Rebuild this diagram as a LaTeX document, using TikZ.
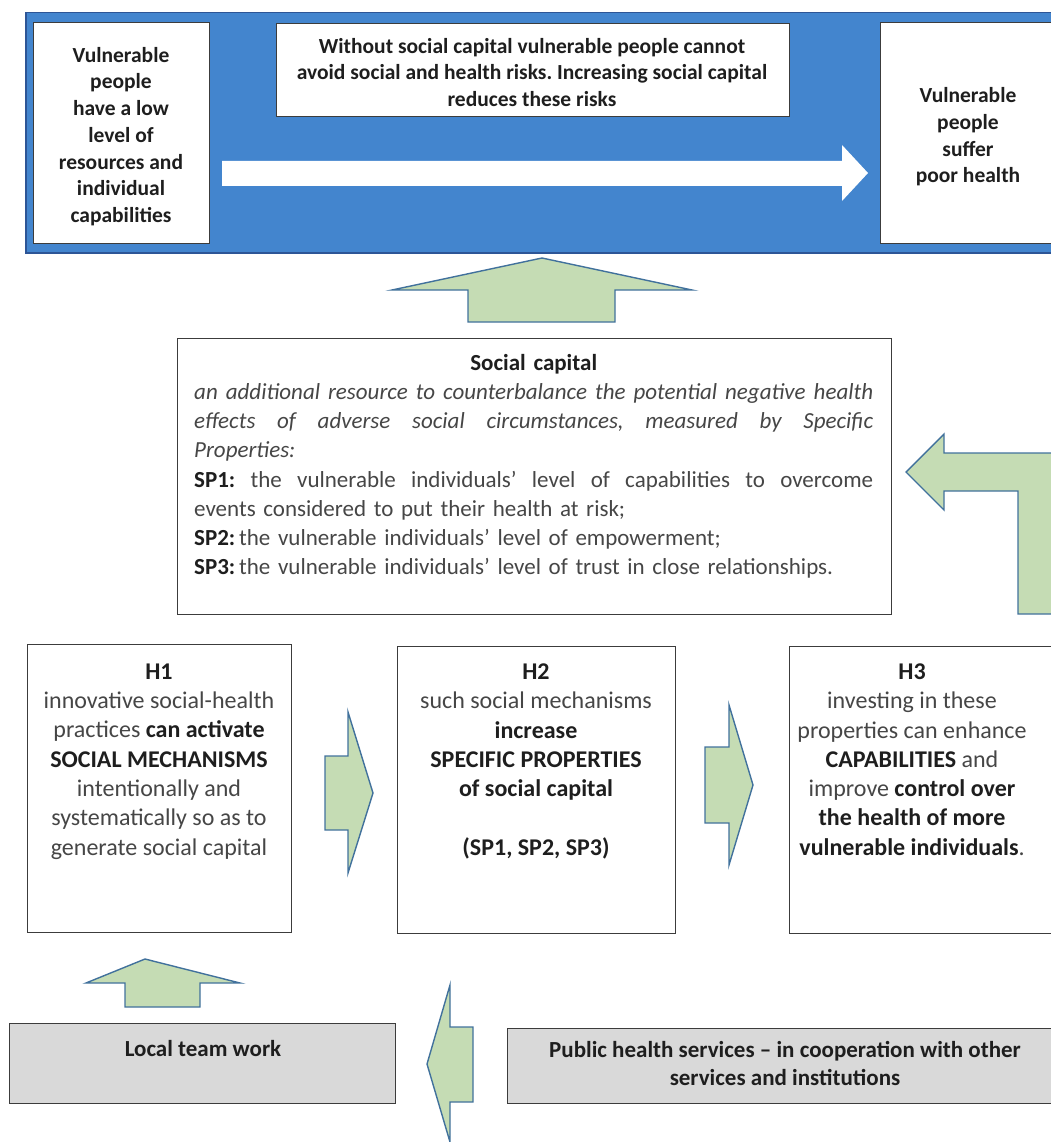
\documentclass[tikz,border=0pt]{standalone}
\usepackage{fontspec}
\setmainfont{Carlito}
\definecolor{bannerblue}{RGB}{67,133,206}
\definecolor{bannerline}{RGB}{45,85,150}
\definecolor{arrowgreen}{RGB}{197,220,180}
\definecolor{arrowline}{RGB}{65,113,156}
\definecolor{boxline}{RGB}{60,60,60}
\definecolor{greyfill}{RGB}{217,217,217}
\definecolor{txtgrey}{RGB}{70,70,70}
\definecolor{txtdark}{RGB}{30,30,30}
\newcommand{\bd}[1]{{\bfseries\color{txtdark}#1}}
\frenchspacing
\begin{document}
\begin{tikzpicture}[x=1pt,y=-1pt,
  box/.style={draw=boxline, line width=1pt, fill=white, inner sep=0pt, anchor=north west},
  greybox/.style={box, fill=greyfill},
  garrow/.style={draw=arrowline, line width=1.4pt, fill=arrowgreen, line join=miter},
  txt/.style={inner sep=0pt, align=center, anchor=north, text=txtdark},
  htxt/.style={txt, text=txtgrey, font=\fontsize{24}{29.3}\selectfont},
  toptxt/.style={txt, font=\bfseries\fontsize{21.5}{26.7}\selectfont}]
\useasboundingbox (0,0) rectangle (1051,1142);
\begin{scope}
\clip (0,0) rectangle (1051,1142);
% blue banner
\node[draw=bannerline, line width=1.5pt, fill=bannerblue, inner sep=0pt, anchor=north west,
      minimum width=1040pt, minimum height=240pt] (banner) at (25,12) {};
\node[box, minimum width=176pt, minimum height=221pt] (lbox) at (33,22) {};
\node[box, minimum width=513pt, minimum height=93pt] (mbox) at (276,23) {};
\node[box, minimum width=190pt, minimum height=221pt] (rbox) at (880,22) {};
\node[toptxt] (lboxt) at (121,47) {Vulnerable\\people\\have a low\\level of\\resources and\\individual\\capabilities};
\node[toptxt] (mboxt) at (532,38) {Without social capital vulnerable people cannot\\avoid social and health risks. Increasing social capital\\reduces these risks};
\node[toptxt] (rboxt) at (968,87.5) {Vulnerable\\people\\suffer\\poor health};
% white arrow
\fill[white] (222,161) -- (842,161) -- (842,145) -- (868,173) -- (842,201) -- (842,186) -- (222,186) -- cycle;
% green up arrow (top)
\draw[garrow] (542,258) -- (692,290) -- (615,290) -- (615,322) -- (468,322) -- (468,290) -- (392,290) -- cycle;
% social capital box
\node[box, minimum width=714pt, minimum height=276pt] (scbox) at (177,338) {};
\node[inner sep=0pt, anchor=north west, text width=679pt, text=txtgrey,
      font=\fontsize{23}{29.2}\selectfont] (sct) at (194,354)
{\hbox to\linewidth{\hfill\bd{Social capital}\hfill}\par
\hbox to\linewidth{\itshape an\hfill additional\hfill resource\hfill to\hfill counterbalance\hfill the\hfill potential\hfill negative\hfill health}\par
\hbox to\linewidth{\itshape effects\hfill of\hfill adverse\hfill social\hfill circumstances,\hfill measured\hfill by\hfill Specific}\par
{\itshape Properties:}\par
\hbox to\linewidth{\bd{SP1:}\hfill the\hfill vulnerable\hfill individuals’\hfill level\hfill of\hfill capabilities\hfill to\hfill overcome}\par
events considered to put their health at risk;\par
\bd{SP2:}\,the vulnerable individuals’ level of empowerment;\par
\bd{SP3:}\,the vulnerable individuals’ level of trust in close relationships.};
% L-shaped arrow on the right
\draw[garrow] (906,472) -- (944,434) -- (944,453) -- (1075,453) -- (1075,614) -- (1018,614) -- (1018,491) -- (944,491) -- (944,510) -- cycle;
% H boxes
\node[box, minimum width=264pt, minimum height=288pt] (h1) at (27,644) {};
\node[box, minimum width=278pt, minimum height=287pt] (h2) at (397,646) {};
\node[box, minimum width=280pt, minimum height=287pt] (h3) at (789,646) {};
\node[htxt] (h1t) at (159,663.5) {\bd{H1}\\innovative social-health\\practices \bd{can activate}\\\bd{SOCIAL MECHANISMS}\\intentionally and\\systematically so as to\\generate social capital};
\node[htxt] (h2t) at (536,663.5) {\bd{H2}\\such social mechanisms\\\bd{increase}\\\bd{SPECIFIC PROPERTIES}\\\bd{of social capital}\\[29.3pt]\bd{(SP1, SP2, SP3)}};
\node[htxt] (h3t) at (912,663.5) {\bd{H3}\\investing in these\\properties can enhance\\\bd{CAPABILITIES} and\\improve \bd{control over}\\\bd{the health of more}\\\bd{vulnerable individuals}.};
% arrows between H boxes
\draw[garrow] (373,793) -- (348,873) -- (348,830) -- (325,830) -- (325,756) -- (348,756) -- (348,712) -- cycle;
\draw[garrow] (753,785) -- (729,865) -- (729,823) -- (705,823) -- (705,747) -- (729,747) -- (729,705) -- cycle;
% bottom up arrow
\draw[garrow] (145,959) -- (240,983) -- (200,983) -- (200,1007) -- (125,1007) -- (125,983) -- (86,983) -- cycle;
% bottom boxes
\node[greybox, minimum width=386pt, minimum height=80pt] (ltw) at (9,1023) {};
\node[greybox, minimum width=560pt, minimum height=75pt] (phs) at (507,1028) {};
\node[txt, font=\bfseries\fontsize{23}{28}\selectfont] (ltwt) at (203,1040) {Local team work};
\node[txt, font=\bfseries\fontsize{23}{28}\selectfont] (phst) at (785,1041) {Public health services – in cooperation with other\\services and institutions};
% bottom left-pointing arrow
\draw[garrow] (427,1064) -- (450,985) -- (450,1027) -- (473,1027) -- (473,1102) -- (450,1102) -- (450,1142) -- cycle;
\end{scope}
\end{tikzpicture}
\end{document}
